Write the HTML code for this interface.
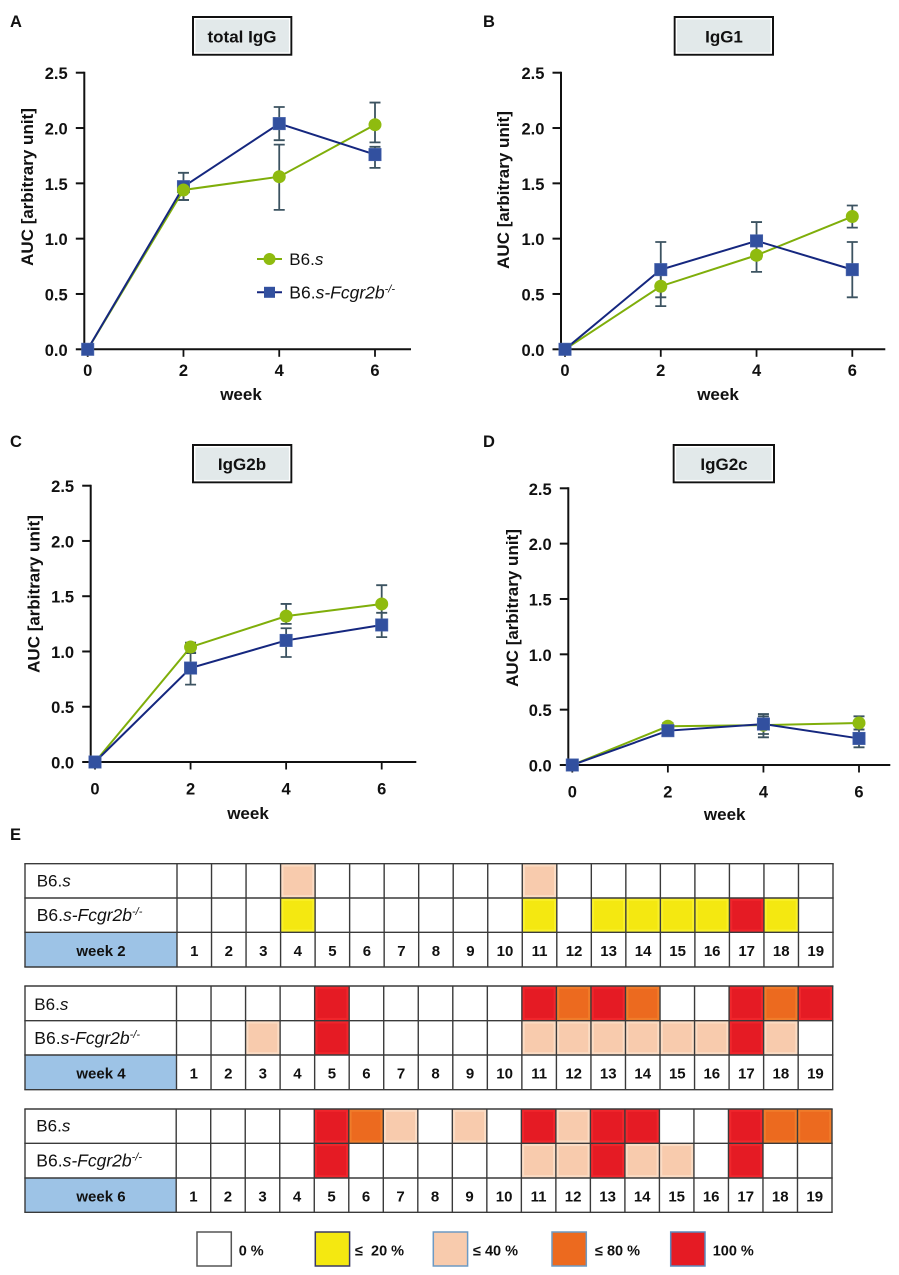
<!DOCTYPE html>
<html lang="en">
<head>
<meta charset="utf-8">
<title>AUC of IgG subclasses and autoantigen reactivity</title>
<style>
html,body{margin:0;padding:0;background:#fff;}
svg{display:block;}
text{font-family:"Liberation Sans",sans-serif;fill:#111;}
</style>
</head>
<body>
<svg id="fig" xmlns="http://www.w3.org/2000/svg" width="899" height="1275" viewBox="0 0 899 1275"></svg>
<script>
// ---- line chart data ----
const weeks = [0, 2, 4, 6];
const yTicks = [0, 0.5, 1, 1.5, 2, 2.5];
const yTickLabels = ['0.0', '0.5', '1.0', '1.5', '2.0', '2.5'];

const totalWt = [0, 1.44, 1.56, 2.03];
const totalWtLow = [0, 1.35, 1.26, 1.87];
const totalWtHigh = [0, 1.5, 1.85, 2.23];
const totalKo = [0, 1.47, 2.04, 1.76];
const totalKoLow = [0, 1.35, 1.89, 1.64];
const totalKoHigh = [0, 1.595, 2.19, 1.83];

const igg1Wt = [0, 0.57, 0.85, 1.2];
const igg1WtLow = [0, 0.39, 0.7, 1.1];
const igg1WtHigh = [0, 0.72, 1.0, 1.3];
const igg1Ko = [0, 0.72, 0.98, 0.72];
const igg1KoLow = [0, 0.47, 0.82, 0.47];
const igg1KoHigh = [0, 0.97, 1.15, 0.97];

const igg2bWt = [0, 1.04, 1.32, 1.43];
const igg2bWtLow = [0, 0.985, 1.25, 1.27];
const igg2bWtHigh = [0, 1.08, 1.43, 1.6];
const igg2bKo = [0, 0.85, 1.1, 1.24];
const igg2bKoLow = [0, 0.7, 0.95, 1.13];
const igg2bKoHigh = [0, 0.99, 1.21, 1.35];

const igg2cWt = [0, 0.35, 0.36, 0.38];
const igg2cWtLow = [0, 0.32, 0.28, 0.32];
const igg2cWtHigh = [0, 0.38, 0.44, 0.44];
const igg2cKo = [0, 0.31, 0.37, 0.24];
const igg2cKoLow = [0, 0.28, 0.25, 0.16];
const igg2cKoHigh = [0, 0.34, 0.46, 0.32];

// ---- heatmap data (percent of mice per antigen 1..19) ----
const antigens = [1,2,3,4,5,6,7,8,9,10,11,12,13,14,15,16,17,18,19];
const week2Wt = [0,0,0,40,0,0,0,0,0,0,40,0,0,0,0,0,0,0,0];
const week2Ko = [0,0,0,20,0,0,0,0,0,0,20,0,20,20,20,20,100,20,0];
const week4Wt = [0,0,0,0,100,0,0,0,0,0,100,80,100,80,0,0,100,80,100];
const week4Ko = [0,0,40,0,100,0,0,0,0,0,40,40,40,40,40,40,100,40,0];
const week6Wt = [0,0,0,0,100,80,40,0,40,0,100,40,100,100,0,0,100,80,80];
const week6Ko = [0,0,0,0,100,0,0,0,0,0,40,40,100,40,40,0,100,0,0];

const legendLevels = [0, 20, 40, 80, 100];
const legendLabels = ['0 %', '\u2264\u00a0 20 %', '\u2264 40 %', '\u2264 80 %', '100 %'];

// ---- styling and layout ----
const GREEN = '#8fbb0f', GREEN_LINE = '#7fae0a', BLUE = '#32509f', BLUE_LINE = '#15277f', ERR = '#3c5361';
const levelFill = {0:'#ffffff', 20:'#f4e811', 40:'#f8cbad', 80:'#ec6a1f', 100:'#e51b24'};
const levelGlow = {0:'#ffffff', 20:'#f8f02a', 40:'#fbdcc4', 80:'#f07c2a', 100:'#f0262c'};
const levelEdge = {0:'#555555', 20:'#3a3a66', 40:'#6d9ac4', 80:'#6d9ac4', 100:'#5a8abd'};

const svg = document.getElementById('fig');
const NS = 'http://www.w3.org/2000/svg';
function mk(tag, attrs, parent) {
  const node = document.createElementNS(NS, tag);
  for (const k in attrs) node.setAttribute(k, attrs[k]);
  (parent || svg).appendChild(node);
  return node;
}
function label(node, str) { node.textContent = str; return node; }

const panels = [
  {id:'a', letter:'A', lx:10, ly:27, title:'total IgG', box:[192,16,100.3,39.7], tx:242, ty:42.5,
   axisX:84.3, top:72.7, bottom:349.3, x0:87.7, x6:375, end:411, ylx:33, yly:187, wx:241, wy:400, xty:376,
   wt:totalWt, wtLow:totalWtLow, wtHigh:totalWtHigh, ko:totalKo, koLow:totalKoLow, koHigh:totalKoHigh, greenTop:true},
  {id:'b', letter:'B', lx:483, ly:27, title:'IgG1', box:[673.7,16,100.3,39.7], tx:724, ty:42.5,
   axisX:561, top:72.7, bottom:349.3, x0:565, x6:852.3, end:885.3, ylx:509, yly:190, wx:718, wy:400, xty:376,
   wt:igg1Wt, wtLow:igg1WtLow, wtHigh:igg1WtHigh, ko:igg1Ko, koLow:igg1KoLow, koHigh:igg1KoHigh, greenTop:true},
  {id:'c', letter:'C', lx:10, ly:447, title:'IgG2b', box:[192,444,100.3,39.3], tx:242, ty:470,
   axisX:90.7, top:485.7, bottom:762, x0:95, x6:381.7, end:416.3, ylx:39.5, yly:594, wx:248, wy:819, xty:794.3,
   wt:igg2bWt, wtLow:igg2bWtLow, wtHigh:igg2bWtHigh, ko:igg2bKo, koLow:igg2bKoLow, koHigh:igg2bKoHigh, greenTop:true},
  {id:'d', letter:'D', lx:483, ly:447, title:'IgG2c', box:[672.7,444,102.3,39.3], tx:724, ty:470,
   axisX:568.3, top:488.3, bottom:765, x0:572.3, x6:859, end:890.3, ylx:518, yly:608, wx:724.7, wy:820, xty:797.7,
   wt:igg2cWt, wtLow:igg2cWtLow, wtHigh:igg2cWtHigh, ko:igg2cKo, koLow:igg2cKoLow, koHigh:igg2cKoHigh, greenTop:false}
];

function drawErrors(g, p, xs, ys, low, high, seriesName) {
  weeks.forEach(function (w, i) {
    if (high[i] === low[i]) return;
    const bar = mk('path', {
      d: 'M' + (xs(w)-5.5) + ' ' + ys(high[i]) + 'H' + (xs(w)+5.5) +
         'M' + xs(w) + ' ' + ys(high[i]) + 'V' + ys(low[i]) +
         'M' + (xs(w)-5.5) + ' ' + ys(low[i]) + 'H' + (xs(w)+5.5),
      fill:'none', stroke:ERR, 'stroke-width':1.8
    }, g);
    
    
  });
}
function drawLine(g, xs, ys, values, color, seriesName) {
  const pts = weeks.map(function (w, i) { return xs(w) + ',' + ys(values[i]); }).join(' ');
  const line = mk('polyline', {points:pts, fill:'none', stroke:color, 'stroke-width':2}, g);
  
  
}
function drawCircle(g, cx, cy, w) {
  const dot = mk('circle', {cx:cx, cy:cy, r:6.5, fill:GREEN}, g);
  
  
}
function drawSquare(g, cx, cy, w) {
  const sq = mk('rect', {x:cx-6.2, y:cy-6.2, width:12.4, height:12.4, fill:BLUE, stroke:'#4a66ad', 'stroke-width':0.6}, g);
  
  
}

panels.forEach(function (p) {
  const xs = function (w) { return p.x0 + (w - weeks[0]) * (p.x6 - p.x0) / (weeks[weeks.length-1] - weeks[0]); };
  const ys = function (v) { return p.bottom - v * (p.bottom - p.top) / 2.5; };

  const g = mk('g', {});
  
  

  const letter = label(mk('text', {x:p.lx, y:p.ly, 'font-size':16.5, 'font-weight':'bold'}, g), p.letter);
  
  

  const box = mk('rect', {x:p.box[0]+1, y:p.box[1]+1, width:p.box[2]-2, height:p.box[3]-2, fill:'#e2e9ea', stroke:'#111', 'stroke-width':2}, g);
  
  
  const inner = mk('rect', {x:p.box[0]+2.7, y:p.box[1]+2.7, width:p.box[2]-5.4, height:p.box[3]-5.4, fill:'none', stroke:'#fff', 'stroke-width':1.4}, g);
  
  
  const title = label(mk('text', {x:p.tx, y:p.ty, 'font-size':17, 'font-weight':'bold', 'text-anchor':'middle'}, g), p.title);
  
  

  yTicks.forEach(function (v, i) {
    const t = mk('line', {x1:p.axisX-8.5, x2:p.axisX, y1:ys(v), y2:ys(v), stroke:'#111', 'stroke-width':2}, g);
    
    
    const l = label(mk('text', {x:p.axisX-16.6, y:ys(v)+6.5, 'font-size':16.5, 'font-weight':'bold', 'text-anchor':'end'}, g), yTickLabels[i]);
    
    
  });
  weeks.forEach(function (w) {
    const t = mk('line', {x1:xs(w), x2:xs(w), y1:p.bottom, y2:p.bottom+7.5, stroke:'#111', 'stroke-width':1.8}, g);
    
    
    const l = label(mk('text', {x:xs(w), y:p.xty, 'font-size':16.5, 'font-weight':'bold', 'text-anchor':'middle'}, g), String(w));
    
    
  });

  const yAxis = mk('line', {x1:p.axisX, x2:p.axisX, y1:p.top-1, y2:p.bottom+1, stroke:'#111', 'stroke-width':2}, g);
  
  
  const xAxis = mk('line', {x1:p.axisX-1, x2:p.end, y1:p.bottom, y2:p.bottom, stroke:'#111', 'stroke-width':2}, g);
  
  

  const yTitle = label(mk('text', {transform:'translate(' + p.ylx + ',' + p.yly + ') rotate(-90)', 'font-size':17, 'font-weight':'bold', 'text-anchor':'middle'}, g), 'AUC [arbitrary unit]');
  
  
  const xTitle = label(mk('text', {x:p.wx, y:p.wy, 'font-size':17, 'font-weight':'bold', 'text-anchor':'middle'}, g), 'week');
  
  

  drawErrors(g, p, xs, ys, p.wtLow, p.wtHigh, 'b6s');
  drawErrors(g, p, xs, ys, p.koLow, p.koHigh, 'fcgr2b-ko');
  drawLine(g, xs, ys, p.wt, GREEN_LINE, 'b6s');
  drawLine(g, xs, ys, p.ko, BLUE_LINE, 'fcgr2b-ko');

  if (p.greenTop) {
    weeks.forEach(function (w, i) { if (i > 0) drawSquare(g, xs(w), ys(p.ko[i]), w); });
    weeks.forEach(function (w, i) { if (i > 0) drawCircle(g, xs(w), ys(p.wt[i]), w); });
  } else {
    weeks.forEach(function (w, i) { if (i > 0) drawCircle(g, xs(w), ys(p.wt[i]), w); });
    weeks.forEach(function (w, i) { if (i > 0) drawSquare(g, xs(w), ys(p.ko[i]), w); });
  }
  drawSquare(g, xs(weeks[0]), ys(p.ko[0]), weeks[0]);
});

// ---- strain name text: "B6.s" and "B6.s-Fcgr2b-/-" ----
function strainWt(parent, x, y) {
  const t = mk('text', {x:x, y:y, 'font-size':17}, parent);
  t.appendChild(document.createTextNode('B6.'));
  label(mk('tspan', {'font-style':'italic'}, t), 's');
  return t;
}
function strainKo(parent, x, y) {
  const t = mk('text', {x:x, y:y, 'font-size':17.5}, parent);
  t.appendChild(document.createTextNode('B6.'));
  label(mk('tspan', {'font-style':'italic'}, t), 's-Fcgr2b');
  label(mk('tspan', {'font-style':'italic', dy:-6, 'font-size':11}, t), '-/-');
  return t;
}

// ---- legend inside panel A ----
const lg = mk('g', {});


const lgLine1 = mk('line', {x1:257, x2:282, y1:259, y2:259, stroke:GREEN_LINE, 'stroke-width':2}, lg);


const lgDot = mk('circle', {cx:269.5, cy:259, r:6, fill:GREEN}, lg);


const lgText1 = strainWt(lg, 289.3, 265);


const lgLine2 = mk('line', {x1:257, x2:282, y1:292.3, y2:292.3, stroke:BLUE_LINE, 'stroke-width':2}, lg);


const lgSq = mk('rect', {x:264, y:286.8, width:11, height:11, fill:BLUE}, lg);


const lgText2 = strainKo(lg, 289.3, 298.5);



// ---- panel E ----
const eLetter = label(mk('text', {x:10, y:840, 'font-size':16.5, 'font-weight':'bold'}), 'E');



const tables = [
  {week:'week 2', wt:week2Wt, ko:week2Ko, left:25, col:177, right:833, rows:[863.7,898,932.3,967], wtx:36.7, wty:886.7, koy:921, wky:956},
  {week:'week 4', wt:week4Wt, ko:week4Ko, left:25, col:176.5, right:832.7, rows:[986,1020.7,1055,1089.7], wtx:34.3, wty:1010, koy:1044, wky:1078.3},
  {week:'week 6', wt:week6Wt, ko:week6Ko, left:25, col:176.2, right:832, rows:[1109,1143.3,1178,1212.3], wtx:36.3, wty:1131.7, koy:1166.7, wky:1201.3}
];

tables.forEach(function (t) {
  const g = mk('g', {});
  
  
  const cw = (t.right - t.col) / antigens.length;
  const cx = function (a) { return t.col + (a - 1) * cw; };

  const hdr = mk('rect', {x:t.left, y:t.rows[2], width:t.col-t.left, height:t.rows[3]-t.rows[2], fill:'#9dc3e6'}, g);
  
  

  [t.wt, t.ko].forEach(function (vals, r) {
    antigens.forEach(function (a, i) {
      if (!vals[i]) return;
      const cell = mk('rect', {x:cx(a)+1.4, y:t.rows[r]+1.4, width:cw-2.8, height:t.rows[r+1]-t.rows[r]-2.8, fill:levelFill[vals[i]], stroke:levelGlow[vals[i]], 'stroke-width':2.8}, g);
      
      
    });
  });

  t.rows.forEach(function (ry) {
    const h = mk('line', {x1:t.left-0.7, x2:t.right+0.7, y1:ry, y2:ry, stroke:'#3a3a3a', 'stroke-width':1.4}, g);
    
    
  });
  const leftEdge = mk('line', {x1:t.left, x2:t.left, y1:t.rows[0], y2:t.rows[3], stroke:'#3a3a3a', 'stroke-width':1.4}, g);
  
  
  antigens.concat([antigens.length + 1]).forEach(function (a) {
    const v = mk('line', {x1:cx(a), x2:cx(a), y1:t.rows[0], y2:t.rows[3], stroke:'#3a3a3a', 'stroke-width':1.4}, g);
    
    
  });

  const wtLabel = strainWt(g, t.wtx, t.wty);
  
  
  const koLabel = strainKo(g, t.wtx, t.koy);
  
  
  const wk = label(mk('text', {x:101, y:t.wky, 'font-size':15, 'font-weight':'bold', 'text-anchor':'middle'}, g), t.week);
  
  

  antigens.forEach(function (a) {
    const n = label(mk('text', {x:cx(a)+cw/2, y:t.wky, 'font-size':15, 'font-weight':'bold', 'text-anchor':'middle'}, g), String(a));
    
    
  });
});

// ---- heatmap legend ----
const boxLeft = [197, 315.3, 433.3, 552, 670.7];
const textLeft = [238.7, 355, 473, 595, 712.7];
const hl = mk('g', {});


legendLevels.forEach(function (lv, i) {
  const b = mk('rect', {x:boxLeft[i], y:1232, width:34.3, height:34, fill:levelFill[lv], stroke:levelEdge[lv], 'stroke-width':1.5}, hl);
  
  
  const tx = label(mk('text', {x:textLeft[i], y:1255.5, 'font-size':14.5, 'font-weight':'bold'}, hl), legendLabels[i]);
  
  
});
</script>
</body>
</html>
